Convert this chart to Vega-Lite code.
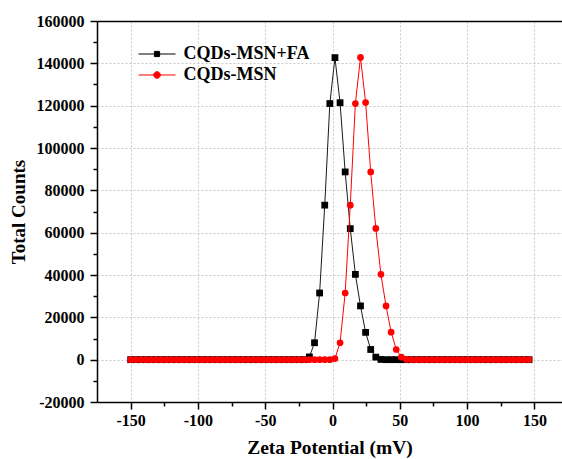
{
  "$schema": "https://vega.github.io/schema/vega-lite/v6.json",
  "width": 465,
  "height": 381,
  "autosize": {"type": "none"},
  "padding": {"left": 97, "top": 21, "right": 0, "bottom": 57},
  "background": "white",
  "config": {
    "view": {"stroke": null},
    "font": "Liberation Serif",
    "axis": {
      "labelFont": "Liberation Serif",
      "labelFontWeight": "bold",
      "labelColor": "#000000",
      "titleFont": "Liberation Serif",
      "titleFontWeight": "bold",
      "titleColor": "#000000",
      "domainColor": "#000000",
      "tickColor": "#000000",
      "gridColor": "#c8c8c8",
      "gridDash": [2, 2],
      "gridWidth": 1
    },
    "legend": {
      "labelFont": "Liberation Serif",
      "labelFontWeight": "bold",
      "labelFontSize": 18,
      "labelColor": "#000000"
    }
  },
  "data": {
    "values": [
      {"s":"CQDs-MSN+FA","mV":-150,"counts":0},{"s":"CQDs-MSN+FA","mV":-146.21,"counts":0},{"s":"CQDs-MSN+FA","mV":-142.41,"counts":0},{"s":"CQDs-MSN+FA","mV":-138.62,"counts":0},{"s":"CQDs-MSN+FA","mV":-134.82,"counts":0},{"s":"CQDs-MSN+FA","mV":-131.03,"counts":0},{"s":"CQDs-MSN+FA","mV":-127.23,"counts":0},{"s":"CQDs-MSN+FA","mV":-123.44,"counts":0},{"s":"CQDs-MSN+FA","mV":-119.64,"counts":0},{"s":"CQDs-MSN+FA","mV":-115.85,"counts":0},
      {"s":"CQDs-MSN+FA","mV":-112.05,"counts":0},{"s":"CQDs-MSN+FA","mV":-108.26,"counts":0},{"s":"CQDs-MSN+FA","mV":-104.46,"counts":0},{"s":"CQDs-MSN+FA","mV":-100.67,"counts":0},{"s":"CQDs-MSN+FA","mV":-96.87,"counts":0},{"s":"CQDs-MSN+FA","mV":-93.08,"counts":0},{"s":"CQDs-MSN+FA","mV":-89.28,"counts":0},{"s":"CQDs-MSN+FA","mV":-85.49,"counts":0},{"s":"CQDs-MSN+FA","mV":-81.69,"counts":0},{"s":"CQDs-MSN+FA","mV":-77.9,"counts":0},
      {"s":"CQDs-MSN+FA","mV":-74.1,"counts":0},{"s":"CQDs-MSN+FA","mV":-70.31,"counts":0},{"s":"CQDs-MSN+FA","mV":-66.51,"counts":0},{"s":"CQDs-MSN+FA","mV":-62.72,"counts":0},{"s":"CQDs-MSN+FA","mV":-58.92,"counts":0},{"s":"CQDs-MSN+FA","mV":-55.13,"counts":0},{"s":"CQDs-MSN+FA","mV":-51.33,"counts":0},{"s":"CQDs-MSN+FA","mV":-47.54,"counts":0},{"s":"CQDs-MSN+FA","mV":-43.74,"counts":0},{"s":"CQDs-MSN+FA","mV":-39.95,"counts":0},
      {"s":"CQDs-MSN+FA","mV":-36.15,"counts":0},{"s":"CQDs-MSN+FA","mV":-32.36,"counts":0},{"s":"CQDs-MSN+FA","mV":-28.56,"counts":0},{"s":"CQDs-MSN+FA","mV":-24.77,"counts":0},{"s":"CQDs-MSN+FA","mV":-20.97,"counts":0},{"s":"CQDs-MSN+FA","mV":-17.18,"counts":1300},{"s":"CQDs-MSN+FA","mV":-13.38,"counts":8000},{"s":"CQDs-MSN+FA","mV":-9.59,"counts":31500},{"s":"CQDs-MSN+FA","mV":-5.79,"counts":73000},{"s":"CQDs-MSN+FA","mV":-2,"counts":121000},
      {"s":"CQDs-MSN+FA","mV":1.8,"counts":142700},{"s":"CQDs-MSN+FA","mV":5.6,"counts":121400},{"s":"CQDs-MSN+FA","mV":9.39,"counts":88700},{"s":"CQDs-MSN+FA","mV":13.19,"counts":61900},{"s":"CQDs-MSN+FA","mV":16.98,"counts":40300},{"s":"CQDs-MSN+FA","mV":20.78,"counts":25400},{"s":"CQDs-MSN+FA","mV":24.57,"counts":12900},{"s":"CQDs-MSN+FA","mV":28.37,"counts":4800},{"s":"CQDs-MSN+FA","mV":32.16,"counts":1200},{"s":"CQDs-MSN+FA","mV":35.96,"counts":100},
      {"s":"CQDs-MSN+FA","mV":39.75,"counts":0},{"s":"CQDs-MSN+FA","mV":43.55,"counts":0},{"s":"CQDs-MSN+FA","mV":47.34,"counts":0},{"s":"CQDs-MSN+FA","mV":51.14,"counts":0},{"s":"CQDs-MSN+FA","mV":54.93,"counts":0},{"s":"CQDs-MSN+FA","mV":58.73,"counts":0},{"s":"CQDs-MSN+FA","mV":62.52,"counts":0},{"s":"CQDs-MSN+FA","mV":66.32,"counts":0},{"s":"CQDs-MSN+FA","mV":70.11,"counts":0},{"s":"CQDs-MSN+FA","mV":73.91,"counts":0},
      {"s":"CQDs-MSN+FA","mV":77.7,"counts":0},{"s":"CQDs-MSN+FA","mV":81.5,"counts":0},{"s":"CQDs-MSN+FA","mV":85.29,"counts":0},{"s":"CQDs-MSN+FA","mV":89.09,"counts":0},{"s":"CQDs-MSN+FA","mV":92.88,"counts":0},{"s":"CQDs-MSN+FA","mV":96.68,"counts":0},{"s":"CQDs-MSN+FA","mV":100.47,"counts":0},{"s":"CQDs-MSN+FA","mV":104.27,"counts":0},{"s":"CQDs-MSN+FA","mV":108.06,"counts":0},{"s":"CQDs-MSN+FA","mV":111.86,"counts":0},
      {"s":"CQDs-MSN+FA","mV":115.65,"counts":0},{"s":"CQDs-MSN+FA","mV":119.45,"counts":0},{"s":"CQDs-MSN+FA","mV":123.24,"counts":0},{"s":"CQDs-MSN+FA","mV":127.04,"counts":0},{"s":"CQDs-MSN+FA","mV":130.83,"counts":0},{"s":"CQDs-MSN+FA","mV":134.63,"counts":0},{"s":"CQDs-MSN+FA","mV":138.42,"counts":0},{"s":"CQDs-MSN+FA","mV":142.22,"counts":0},{"s":"CQDs-MSN+FA","mV":146.01,"counts":0},

      {"s":"CQDs-MSN","mV":-150,"counts":0},{"s":"CQDs-MSN","mV":-146.21,"counts":0},{"s":"CQDs-MSN","mV":-142.41,"counts":0},{"s":"CQDs-MSN","mV":-138.62,"counts":0},{"s":"CQDs-MSN","mV":-134.82,"counts":0},{"s":"CQDs-MSN","mV":-131.03,"counts":0},{"s":"CQDs-MSN","mV":-127.23,"counts":0},{"s":"CQDs-MSN","mV":-123.44,"counts":0},{"s":"CQDs-MSN","mV":-119.64,"counts":0},{"s":"CQDs-MSN","mV":-115.85,"counts":0},
      {"s":"CQDs-MSN","mV":-112.05,"counts":0},{"s":"CQDs-MSN","mV":-108.26,"counts":0},{"s":"CQDs-MSN","mV":-104.46,"counts":0},{"s":"CQDs-MSN","mV":-100.67,"counts":0},{"s":"CQDs-MSN","mV":-96.87,"counts":0},{"s":"CQDs-MSN","mV":-93.08,"counts":0},{"s":"CQDs-MSN","mV":-89.28,"counts":0},{"s":"CQDs-MSN","mV":-85.49,"counts":0},{"s":"CQDs-MSN","mV":-81.69,"counts":0},{"s":"CQDs-MSN","mV":-77.9,"counts":0},
      {"s":"CQDs-MSN","mV":-74.1,"counts":0},{"s":"CQDs-MSN","mV":-70.31,"counts":0},{"s":"CQDs-MSN","mV":-66.51,"counts":0},{"s":"CQDs-MSN","mV":-62.72,"counts":0},{"s":"CQDs-MSN","mV":-58.92,"counts":0},{"s":"CQDs-MSN","mV":-55.13,"counts":0},{"s":"CQDs-MSN","mV":-51.33,"counts":0},{"s":"CQDs-MSN","mV":-47.54,"counts":0},{"s":"CQDs-MSN","mV":-43.74,"counts":0},{"s":"CQDs-MSN","mV":-39.95,"counts":0},
      {"s":"CQDs-MSN","mV":-36.15,"counts":0},{"s":"CQDs-MSN","mV":-32.36,"counts":0},{"s":"CQDs-MSN","mV":-28.56,"counts":0},{"s":"CQDs-MSN","mV":-24.77,"counts":0},{"s":"CQDs-MSN","mV":-20.97,"counts":0},{"s":"CQDs-MSN","mV":-17.18,"counts":0},{"s":"CQDs-MSN","mV":-13.38,"counts":0},{"s":"CQDs-MSN","mV":-9.59,"counts":0},{"s":"CQDs-MSN","mV":-5.79,"counts":0},{"s":"CQDs-MSN","mV":-2,"counts":0},
      {"s":"CQDs-MSN","mV":1.8,"counts":500},{"s":"CQDs-MSN","mV":5.6,"counts":8000},{"s":"CQDs-MSN","mV":9.39,"counts":31500},{"s":"CQDs-MSN","mV":13.19,"counts":73000},{"s":"CQDs-MSN","mV":16.98,"counts":121000},{"s":"CQDs-MSN","mV":20.78,"counts":142800},{"s":"CQDs-MSN","mV":24.57,"counts":121500},{"s":"CQDs-MSN","mV":28.37,"counts":88700},{"s":"CQDs-MSN","mV":32.16,"counts":62000},{"s":"CQDs-MSN","mV":35.96,"counts":40300},
      {"s":"CQDs-MSN","mV":39.75,"counts":25400},{"s":"CQDs-MSN","mV":43.55,"counts":13000},{"s":"CQDs-MSN","mV":47.34,"counts":4800},{"s":"CQDs-MSN","mV":51.14,"counts":1200},{"s":"CQDs-MSN","mV":54.93,"counts":100},{"s":"CQDs-MSN","mV":58.73,"counts":0},{"s":"CQDs-MSN","mV":62.52,"counts":0},{"s":"CQDs-MSN","mV":66.32,"counts":0},{"s":"CQDs-MSN","mV":70.11,"counts":0},{"s":"CQDs-MSN","mV":73.91,"counts":0},
      {"s":"CQDs-MSN","mV":77.7,"counts":0},{"s":"CQDs-MSN","mV":81.5,"counts":0},{"s":"CQDs-MSN","mV":85.29,"counts":0},{"s":"CQDs-MSN","mV":89.09,"counts":0},{"s":"CQDs-MSN","mV":92.88,"counts":0},{"s":"CQDs-MSN","mV":96.68,"counts":0},{"s":"CQDs-MSN","mV":100.47,"counts":0},{"s":"CQDs-MSN","mV":104.27,"counts":0},{"s":"CQDs-MSN","mV":108.06,"counts":0},{"s":"CQDs-MSN","mV":111.86,"counts":0},
      {"s":"CQDs-MSN","mV":115.65,"counts":0},{"s":"CQDs-MSN","mV":119.45,"counts":0},{"s":"CQDs-MSN","mV":123.24,"counts":0},{"s":"CQDs-MSN","mV":127.04,"counts":0},{"s":"CQDs-MSN","mV":130.83,"counts":0},{"s":"CQDs-MSN","mV":134.63,"counts":0},{"s":"CQDs-MSN","mV":138.42,"counts":0},{"s":"CQDs-MSN","mV":142.22,"counts":0},{"s":"CQDs-MSN","mV":146.01,"counts":0}
    ]
  },
  "layer": [
    {
      "transform": [{"filter": "datum.s === 'CQDs-MSN+FA'"}],
      "mark": {"type": "line", "strokeWidth": 1, "color": "#1a1a1a"},
      "encoding": {
        "x": {
          "field": "mV", "type": "quantitative",
          "scale": {"domain": [-175, 170.5], "nice": false, "zero": false},
          "axis": {
            "orient": "bottom",
            "values": [-150, -100, -50, 0, 50, 100, 150],
            "labelExpr": "toString(datum.value)",
            "labelFont": "Liberation Serif", "labelFontWeight": "bold",
            "labelFontSize": 16, "labelPadding": 3, "labelFlush": false, "labelOverlap": false,
            "tickSize": 7, "tickWidth": 1.5, "domainWidth": 1.5,
            "grid": true,
            "title": "Zeta Potential (mV)", "titleFont": "Liberation Serif",
            "titleFontSize": 19.5, "titlePadding": 10
          }
        },
        "y": {
          "field": "counts", "type": "quantitative",
          "scale": {"domain": [-20000, 160000], "nice": false, "zero": false},
          "axis": {
            "orient": "left",
            "values": [-20000, 0, 20000, 40000, 60000, 80000, 100000, 120000, 140000, 160000],
            "labelExpr": "toString(datum.value)",
            "labelFont": "Liberation Serif", "labelFontWeight": "bold",
            "labelFontSize": 16, "labelPadding": 6, "labelFlush": false, "labelOverlap": false,
            "tickSize": 7, "tickWidth": 1.5, "domainWidth": 1.5,
            "grid": true,
            "title": "Total Counts", "titleFont": "Liberation Serif",
            "titleFontSize": 19, "titlePadding": 8
          }
        }
      }
    },
    {
      "transform": [{"filter": "datum.s === 'CQDs-MSN+FA'"}],
      "mark": {"type": "point", "shape": "square", "filled": true, "opacity": 1, "size": 46, "color": "#000000"},
      "encoding": {
        "x": {
          "field": "mV", "type": "quantitative",
          "axis": {
            "orient": "bottom", "values": [-125, -75, -25, 25, 75, 125],
            "labels": false, "domain": false, "grid": false, "ticks": true,
            "tickSize": 4, "tickWidth": 1.5, "title": null
          }
        },
        "y": {
          "field": "counts", "type": "quantitative",
          "axis": {
            "orient": "left",
            "values": [-10000, 10000, 30000, 50000, 70000, 90000, 110000, 130000, 150000],
            "labels": false, "domain": false, "grid": false, "ticks": true,
            "tickSize": 4, "tickWidth": 1.5, "title": null
          }
        }
      }
    },
    {
      "transform": [{"filter": "datum.s === 'CQDs-MSN'"}],
      "mark": {"type": "line", "strokeWidth": 1, "color": "#ff0000"},
      "encoding": {
        "x": {"field": "mV", "type": "quantitative", "axis": null},
        "y": {"field": "counts", "type": "quantitative", "axis": null}
      }
    },
    {
      "transform": [{"filter": "datum.s === 'CQDs-MSN'"}],
      "mark": {"type": "point", "shape": "circle", "filled": true, "opacity": 1, "size": 45, "color": "#ff0000"},
      "encoding": {
        "x": {"field": "mV", "type": "quantitative", "axis": null},
        "y": {"field": "counts", "type": "quantitative", "axis": null}
      }
    },
    {
      "mark": {"type": "point", "filled": true, "opacity": 0},
      "encoding": {
        "x": {
          "field": "mV", "type": "quantitative",
          "axis": {
            "orient": "top", "labels": false, "ticks": false, "grid": false,
            "domain": true, "domainWidth": 1.5, "title": null
          }
        },
        "y": {"field": "counts", "type": "quantitative", "axis": null},
        "color": {
          "field": "s", "type": "nominal",
          "scale": {"domain": ["CQDs-MSN+FA", "CQDs-MSN"], "range": ["#000000", "#ff0000"]},
          "legend": {
            "orient": "none", "legendX": 49.5, "legendY": 22.5, "direction": "vertical",
            "title": null, "padding": 0, "symbolSize": 400, "symbolOpacity": 1,
            "labelOffset": 16, "rowPadding": 1,
            "encode": {"symbols": {"update": {
              "stroke": {"scale": "color", "field": "value"},
              "strokeWidth": {"value": 1},
              "opacity": {"value": 1}
            }}}
          }
        },
        "shape": {
          "field": "s", "type": "nominal",
          "scale": {
            "domain": ["CQDs-MSN+FA", "CQDs-MSN"],
            "range": [
              "M-1.85,0H1.85M-0.26,-0.26H0.26V0.26H-0.26Z",
              "M-1.85,0H1.85M0.33,0A0.33,0.33,0,1,1,-0.33,0A0.33,0.33,0,1,1,0.33,0Z"
            ]
          },
          "legend": {
            "orient": "none", "legendX": 49.5, "legendY": 22.5, "direction": "vertical",
            "title": null, "padding": 0, "symbolSize": 400, "symbolOpacity": 1,
            "labelOffset": 16, "rowPadding": 1
          }
        }
      }
    }
  ],
  "resolve": {"axis": {"x": "independent", "y": "independent"}}
}
